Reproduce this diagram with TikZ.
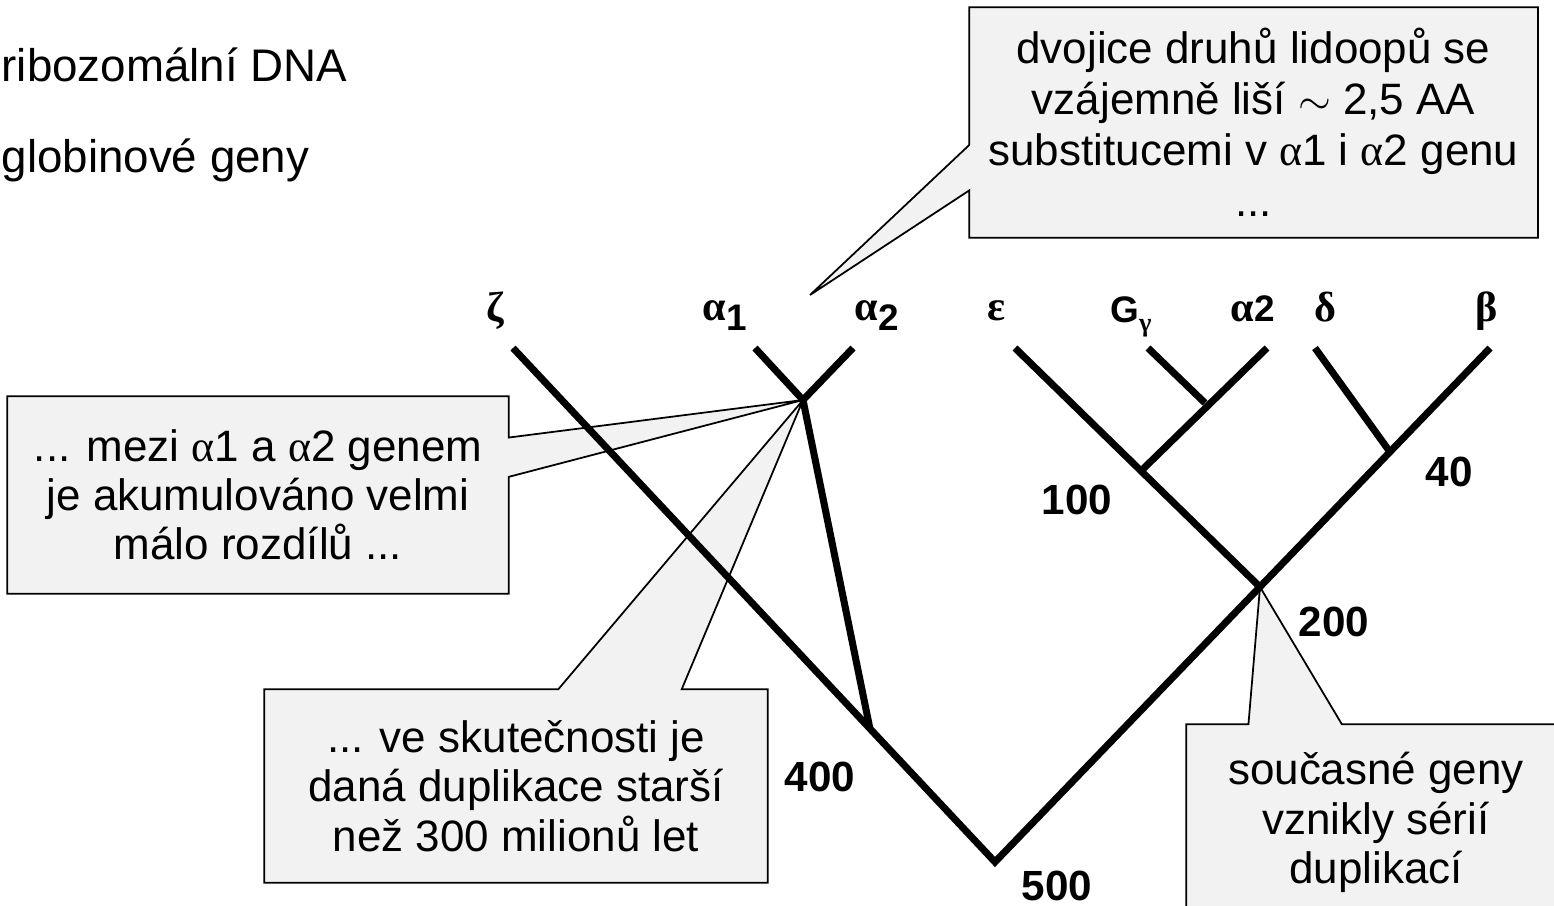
\documentclass[tikz,border=0pt]{standalone}
\usepackage{fontspec}
\setmainfont{Liberation Sans}
\newfontfamily\greekfont{Liberation Serif}
\usetikzlibrary{calc,backgrounds}
\definecolor{calloutbg}{HTML}{F2F2F2}
\newcommand{\gr}[1]{{\greekfont\mdseries #1}}
\newcommand{\glabel}[1]{{\fontsize{12}{13}\selectfont\greekfont\bfseries #1}}
\newcommand{\lowsub}[1]{\raisebox{-3pt}{#1}}
\tikzset{
  branch/.style={line width=2pt,line join=miter},
  callout/.style={draw=black,fill=calloutbg,line width=0.5pt},
  notetext/.style={align=center,inner sep=0pt,
                   font=\fontsize{12.5}{14}\selectfont},
  genelabel/.style={inner sep=0pt,anchor=base,
                    font=\fontsize{10.5}{12}\selectfont\bfseries},
  agelabel/.style={inner sep=0pt,font=\fontsize{12}{14}\selectfont\bfseries},
  plaintext/.style={inner sep=0pt,anchor=west,font=\fontsize{13}{15}\selectfont},
}

\begin{document}
\begin{tikzpicture}[x=0.01cm,y=-0.01cm]
  \useasboundingbox (0,0) rectangle (1554,906);

  % ---- Heading lines ----
  \node[plaintext] (rdna) at (1,65) {ribozomální DNA};
  \node[plaintext] (glob) at (1,160) {globinové geny};

  % ---- Tree vertices ----
  \coordinate (zetatop) at (513,348);
  \coordinate (aonetop) at (755,348);
  \coordinate (atwotop) at (853,348);
  \coordinate (adup)    at (803,400);
  \coordinate (ajoin)   at (870,729);
  \coordinate (root)    at (995,862);
  \coordinate (epstop)  at (1015,348);
  \coordinate (ggtop)   at (1148,348);
  \coordinate (aclone)  at (1267,348);
  \coordinate (ggdup)   at (1205,403);
  \coordinate (ejoin)   at (1142,470);
  \coordinate (deltop)  at (1315,348);
  \coordinate (betatop) at (1490,348);
  \coordinate (dbdup)   at (1390,452);
  \coordinate (bjoin)   at (1260,587);
  \coordinate (pairtip) at (810,295);

  % ---- Callout texts ----
  \node[notetext,minimum width=5.67cm,minimum height=2.29cm,
        font=\fontsize{12.5}{14.5}\selectfont]
    (notepair) at (1253.5,122.5)
    {dvojice druhů lidoopů se\\
     vzájemně liší $\sim$ 2,5 AA\\
     substitucemi v \gr{α}1 i \gr{α}2 genu\\
     ...};
  \node[notetext,minimum width=5.0cm,minimum height=1.96cm]
    (notefew) at (258,495)
    {... mezi \gr{α}1 a \gr{α}2 genem\\
     je akumulováno velmi\\
     málo rozdílů ...};
  \node[notetext,minimum width=5.02cm,minimum height=1.92cm]
    (noteold) at (516,786)
    {... ve skutečnosti je\\
     daná duplikace starší\\
     než 300 milionů let};
  \node[notetext,minimum width=3.78cm,minimum height=1.95cm]
    (noteseries) at (1376,822.5)
    {současné geny\\
     vznikly sérií\\
     duplikací};

  % ---- Callout outlines ----
  \begin{scope}[on background layer]
    \draw[callout] (notepair.north west) -- (notepair.north east)
      -- (notepair.south east) -- (notepair.south west)
      -- ($(notepair.north west)!0.795!(notepair.south west)$)
      -- (pairtip)
      -- ($(notepair.north west)!0.598!(notepair.south west)$) -- cycle;
    \draw[callout] (notefew.north west) -- (notefew.north east)
      -- ($(notefew.north east)!0.209!(notefew.south east)$)
      -- (adup)
      -- ($(notefew.north east)!0.408!(notefew.south east)$)
      -- (notefew.south east) -- (notefew.south west) -- cycle;
    \draw[callout] (noteold.north west)
      -- ($(noteold.north west)!0.584!(noteold.north east)$)
      -- (adup)
      -- ($(noteold.north west)!0.829!(noteold.north east)$)
      -- (noteold.north east) -- (noteold.south east)
      -- (noteold.south west) -- cycle;
    \draw[callout] (noteseries.north west)
      -- ($(noteseries.north west)!0.164!(noteseries.north east)$)
      -- (bjoin)
      -- ($(noteseries.north west)!0.41!(noteseries.north east)$)
      -- (noteseries.north east) -- (noteseries.south east)
      -- (noteseries.south west) -- cycle;
  \end{scope}

  % ---- Branches ----
  \draw[branch] (zetatop) -- (root) -- (betatop);
  \draw[branch] (aonetop) -- (adup) -- (atwotop);
  \draw[branch] (adup) -- (ajoin);
  \draw[branch] (epstop) -- (bjoin);
  \draw[branch] (ggtop) -- (ggdup);
  \draw[branch] (aclone) -- (ejoin);
  \draw[branch] (deltop) -- (dbdup);

  % ---- Gene labels ----
  \node[genelabel] (lzeta)  at (495,321) {\glabel{ζ}};
  \node[genelabel] (laone)  at (725,320) {\glabel{α}\lowsub{1}};
  \node[genelabel] (latwo)  at (877,320) {\glabel{α}\lowsub{2}};
  \node[genelabel] (leps)   at (997,320) {\glabel{ε}};
  \node[genelabel] (lgg)    at (1131,322)
    {G\raisebox{-2.6pt}{\fontsize{7.5}{8}\selectfont\greekfont γ}};
  \node[genelabel] (lclone) at (1253,321) {\glabel{α}2};
  \node[genelabel] (ldelta) at (1325,321) {\glabel{δ}};
  \node[genelabel] (lbeta)  at (1487,321) {\glabel{β}};

  % ---- Ages ----
  \node[agelabel] (age100) at (1077,500) {100};
  \node[agelabel] (age40)  at (1449,472) {40};
  \node[agelabel] (age200) at (1334,622) {200};
  \node[agelabel] (age400) at (820,777)  {400};
  \node[agelabel] (age500) at (1057,886) {500};
\end{tikzpicture}
\end{document}
